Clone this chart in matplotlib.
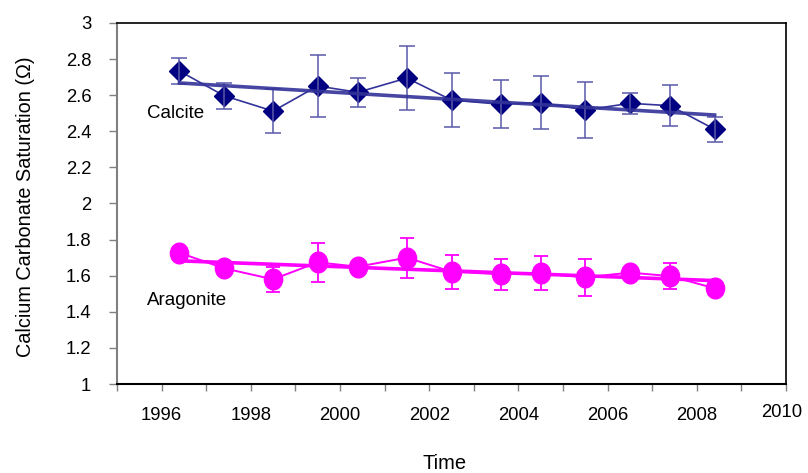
import numpy as np
import matplotlib
matplotlib.use("Agg")
import matplotlib.pyplot as plt
from matplotlib.path import Path
from matplotlib.transforms import ScaledTranslation

plt.rcParams['font.family'] = ['Liberation Sans', 'DejaVu Sans']

years = [1996.4, 1997.4, 1998.5, 1999.5, 2000.4, 2001.5, 2002.5,
         2003.6, 2004.5, 2005.5, 2006.5, 2007.4, 2008.4]
calcite = [2.734, 2.597, 2.512, 2.651, 2.616, 2.695, 2.573,
           2.550, 2.559, 2.518, 2.555, 2.542, 2.411]
calcite_err = [0.07, 0.073, 0.124, 0.17, 0.08, 0.178, 0.15,
               0.132, 0.148, 0.157, 0.057, 0.113, 0.068]
aragonite = [1.727, 1.641, 1.580, 1.674, 1.650, 1.700, 1.622,
             1.608, 1.613, 1.591, 1.617, 1.598, 1.530]
aragonite_err = [0.03, 0.03, 0.07, 0.107, 0.03, 0.11, 0.094,
                 0.085, 0.094, 0.103, 0.03, 0.073, 0.03]
yticks = [1, 1.2, 1.4, 1.6, 1.8, 2, 2.2, 2.4, 2.6, 2.8, 3]
ytick_labels = ['1', '1.2', '1.4', '1.6', '1.8', '2', '2.2', '2.4', '2.6', '2.8', '3']
xticks_major = [1996, 1998, 2000, 2002, 2004, 2006, 2008, 2010]

navy = '#000080'
blue_line = '#333399'
blue_err = '#5a5aaa'
magenta = '#ff00ff'

fig = plt.figure(figsize=(8.08, 4.73), dpi=100)
ax = fig.add_axes([117/808, (473-384)/473, (786-117)/808, (384-23)/473])

x = np.array(years)

# ellipse marker for aragonite
circ = Path.unit_circle()
ell = Path(circ.vertices * np.array([0.88, 1.0]), circ.codes)

# Calcite
ax.plot(x, calcite, color=blue_line, lw=1.2, marker='D', ms=10.2,
        mfc=navy, mec=navy, zorder=3)
ax.errorbar(x, calcite, yerr=calcite_err, fmt='none', ecolor=blue_err,
            elinewidth=1.3, capsize=5.5, capthick=1.3, alpha=0.85, zorder=4)
cp = np.polyfit(x, calcite, 1)
ax.plot([x[0], x[-1]], np.polyval(cp, [x[0], x[-1]]), color=blue_line,
        lw=2.6, alpha=0.9, zorder=5)

# Aragonite
ax.plot(x, aragonite, color=magenta, lw=1.4, marker=ell, ms=14.9,
        mfc=magenta, mec=magenta, zorder=3)
ax.errorbar(x, aragonite, yerr=aragonite_err, fmt='none', ecolor=magenta,
            elinewidth=1.3, capsize=5, capthick=1.3, zorder=4)
ap = np.polyfit(x, aragonite, 1)
ax.plot([x[0], x[-1]], np.polyval(ap, [x[0], x[-1]]), color=magenta,
        lw=2.6, zorder=5)

ax.text(1995.67, 2.50, 'Calcite', fontsize=13.5, va='center', ha='left')
ax.text(1995.67, 1.46, 'Aragonite', fontsize=13.5, va='center', ha='left')

ax.set_xlim(1995, 2010)
ax.set_ylim(1, 3)
ax.set_yticks(yticks)
ax.set_yticklabels(ytick_labels)
ax.set_xticks(xticks_major)
ax.set_xticks(np.arange(1995, 2011, 1), minor=True)
ax.set_xticklabels([str(v) for v in xticks_major])

ax.tick_params(axis='y', which='major', direction='out', length=6, width=1,
               color='#808080', labelsize=13.3, pad=12.5)
ax.tick_params(axis='x', which='both', direction='out', length=4.8, width=1,
               color='#808080', labelsize=13.3, pad=11.5)

for s in ['top', 'right']:
    ax.spines[s].set_color('black')
    ax.spines[s].set_linewidth(1.2)
ax.spines['left'].set_color('#808080')
ax.spines['left'].set_linewidth(1.5)
ax.spines['bottom'].set_color('black')
ax.spines['bottom'].set_linewidth(1.5)

ax.set_ylabel('Calcium Carbonate Saturation (Ω)', fontsize=14.3)
ax.yaxis.set_label_coords(-(117-35)/669, 0.49)

fig.text(445/808, 1 - 463.5/473, 'Time', fontsize=14.5, ha='center', va='center')

# raise the last tick label a little, like the reference
fig.canvas.draw()
for lab in ax.get_xticklabels():
    if lab.get_text() == '2010':
        lab.set_transform(lab.get_transform() +
                          ScaledTranslation(-4/100, 3/100, fig.dpi_scale_trans))

fig.savefig('out.png', dpi=100)
